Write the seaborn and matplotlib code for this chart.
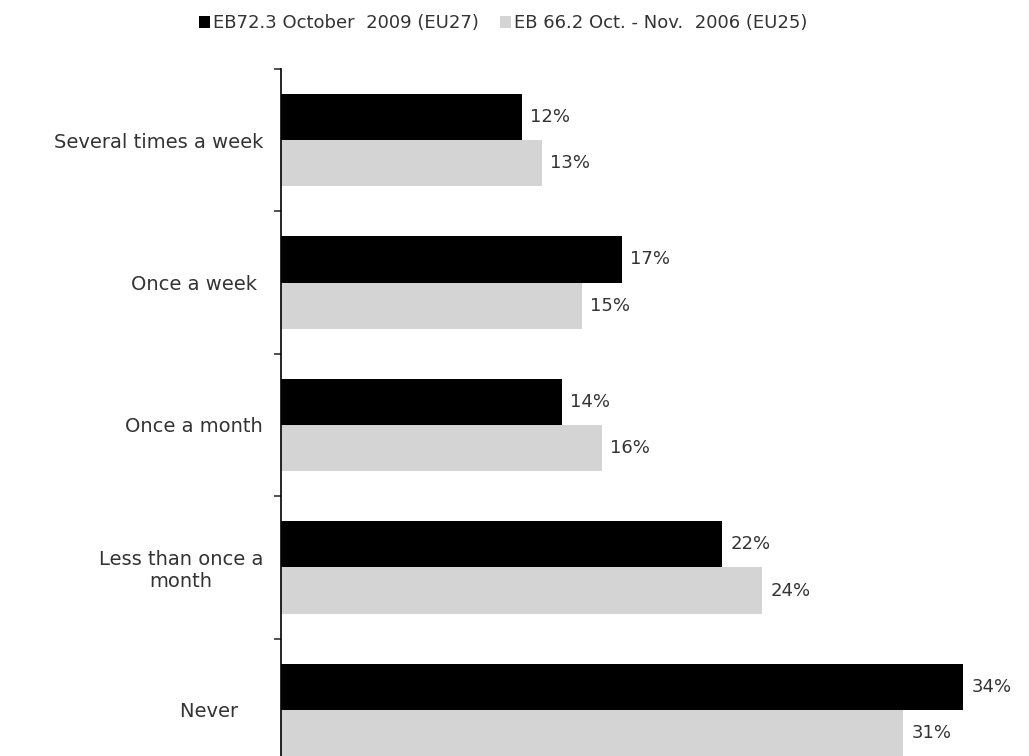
import pandas as pd
import matplotlib.pyplot as plt
import seaborn as sns
from matplotlib.patches import Patch
from matplotlib.ticker import FixedLocator

# Data
categories = ['Several times a week', 'Once a week ', 'Once a month',
              'Less than once a\nmonth', 'Never    ']
series = ['EB72.3 October  2009 (EU27)', 'EB 66.2 Oct. - Nov.  2006 (EU25)']
vals_2009 = [12, 17, 14, 22, 34]
vals_2006 = [13, 15, 16, 24, 31]
colors = ['#000000', '#d4d4d4']

df = pd.DataFrame({
    'category': categories * 2,
    'value': vals_2009 + vals_2006,
    'series': [series[0]] * 5 + [series[1]] * 5,
})

sns.set_style('white')
plt.rcParams['font.family'] = ['DejaVu Sans']

fig = plt.figure(figsize=(10.29, 7.56), dpi=100)
# axes runs off the bottom of the figure, as in the reference crop
ax = fig.add_axes([281 / 1029, 1 - 781 / 756, 748 / 1029, 712 / 756])

sns.barplot(data=df, y='category', x='value', hue='series', orient='h',
            palette=colors, width=0.65, saturation=1, linewidth=0,
            ax=ax, legend=False)

ax.set_xlim(0, 748 / 20.06)
ax.set_ylim(4.5, -0.5)
ax.set_xlabel('')
ax.set_ylabel('')
ax.set_xticks([])

for s in ['top', 'right', 'bottom']:
    ax.spines[s].set_visible(False)
ax.spines['left'].set_color('#000000')
ax.spines['left'].set_linewidth(1.2)

# ticks between groups only
ax.tick_params(axis='y', which='major', left=False, length=0, pad=13,
               labelsize=14, labelcolor='#333333')
ax.yaxis.set_minor_locator(FixedLocator([-0.5, 0.5, 1.5, 2.5, 3.5]))
ax.tick_params(axis='y', which='minor', left=True, length=5, width=1.2,
               color='#333333')
for lab in ax.get_yticklabels():
    lab.set_multialignment('center')

for cont in ax.containers:
    ax.bar_label(cont, fmt='%g%%', padding=6, fontsize=13, color='#333333')

handles = [Patch(facecolor=c, edgecolor='none') for c in colors]
fig.legend(handles, series, loc='center', bbox_to_anchor=(0.489, 0.969),
           ncol=2, frameon=False, fontsize=13, handlelength=0.6,
           handleheight=0.6, handletextpad=0.15, columnspacing=1.2,
           labelcolor='#333333')

fig.savefig('out.png', dpi=100, facecolor='white')
